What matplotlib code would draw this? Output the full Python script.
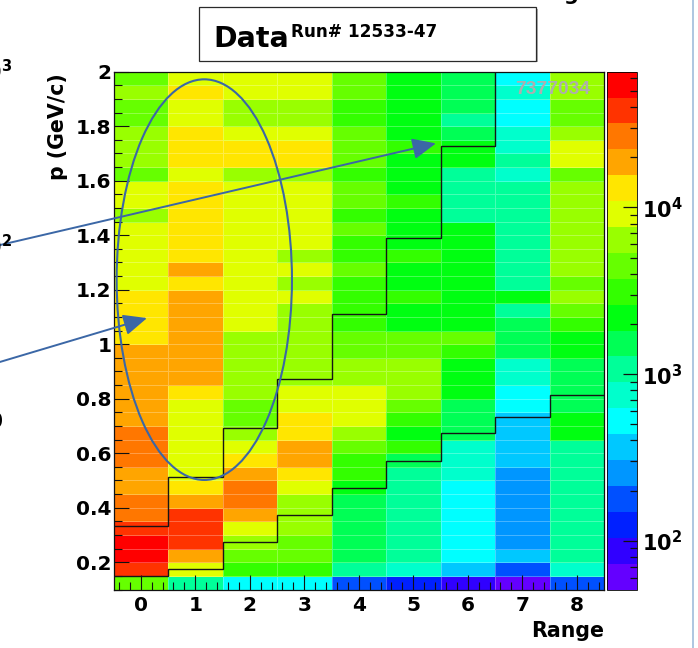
import numpy as np
import matplotlib
matplotlib.use("Agg")
import matplotlib.pyplot as plt
import matplotlib.ticker as mt
from matplotlib.colors import ListedColormap, LogNorm
from matplotlib.patches import Ellipse, Rectangle
from matplotlib.lines import Line2D

# ---------------- data ----------------
range_edges = np.arange(-0.5, 9.0, 1.0)              # Range bins 0..8
p_edges = np.round(np.arange(0.10, 2.0001, 0.05), 2)  # p bins (GeV/c)

# counts per Range column, p bins from 0.10 (bottom) to 2.00 (top)
counts_r0 = [4410, 37900, 55800, 58200, 39600, 27300, 25800, 19200, 18300, 26100, 27800, 26400, 18900, 19500, 18100, 18800, 19700, 18400, 13400, 12800, 13700, 12600, 9350, 8900, 9600, 8700, 9150, 6200, 8800, 9400, 4550, 6500, 6250, 6600, 4380, 4600, 6150, 4500]
counts_r1 = [1080, 9200, 18500, 38800, 40200, 37600, 19100, 13300, 9050, 8950, 9300, 9100, 8800, 9450, 12900, 18600, 19300, 18200, 19800, 18900, 19400, 18700, 13200, 18100, 13600, 12900, 13400, 13800, 12700, 13100, 9250, 13500, 13900, 12800, 9050, 8850, 13300, 9200]
counts_r2 = [510, 3050, 4400, 6300, 9000, 18800, 26900, 27500, 19000, 13200, 9100, 6450, 4500, 4350, 6300, 6500, 6200, 6400, 6550, 9200, 9050, 8900, 9300, 9150, 9400, 8800, 9000, 9250, 9100, 8950, 6400, 13100, 13500, 9200, 6350, 6500, 9050, 9300]
counts_r3 = [530, 3150, 4250, 4600, 6200, 6450, 6350, 9100, 13200, 18600, 19200, 13400, 12900, 9300, 9000, 6400, 6250, 6500, 6300, 6450, 6350, 9150, 6500, 9050, 6250, 8900, 9200, 9350, 9000, 9100, 6400, 13000, 13600, 9200, 6300, 6550, 9050, 9250]
counts_r4 = [175, 1080, 1520, 1560, 1490, 1540, 1600, 2200, 3050, 3200, 4400, 6300, 8900, 9200, 9100, 6450, 6250, 4550, 4400, 3100, 3150, 3050, 3200, 4500, 3100, 3000, 4350, 3150, 4600, 4450, 3050, 4500, 4400, 4550, 3100, 3200, 4450, 4600]
counts_r5 = [122, 760, 1060, 1090, 1040, 1100, 1070, 1050, 1120, 1550, 3100, 2200, 3150, 4500, 6350, 6450, 6300, 4400, 4550, 2150, 2200, 3050, 2180, 2250, 3100, 2200, 2150, 2230, 3150, 2170, 2200, 2190, 3050, 2250, 2160, 2210, 2180, 2230]
counts_r6 = [86, 360, 515, 530, 510, 525, 520, 505, 760, 745, 770, 1540, 1510, 1560, 2200, 2150, 2230, 3100, 4450, 2180, 2210, 2150, 2240, 2190, 2200, 2170, 2230, 1060, 1090, 1050, 1080, 2200, 2160, 1520, 1070, 1550, 1530, 1500]
counts_r7 = [62, 176, 360, 250, 258, 262, 248, 255, 252, 370, 355, 372, 360, 520, 510, 745, 760, 1550, 1520, 1560, 1080, 2200, 1060, 1100, 1050, 1070, 1090, 1040, 1080, 1060, 750, 1070, 760, 740, 515, 525, 755, 520]
counts_r8 = [180, 750, 1060, 1080, 1100, 1050, 1070, 1090, 1040, 1080, 1065, 2200, 2150, 1540, 1520, 1560, 1500, 2180, 2230, 3100, 4450, 6300, 4500, 6400, 6250, 6350, 6500, 6300, 6450, 6200, 4400, 9100, 9300, 6350, 4550, 4450, 6400, 6300]

# momentum cut staircases (one level per Range bin)
upper_cut = [0.334, 0.514, 0.694, 0.871, 1.111, 1.389, 1.727, 2.10]
lower_cut = [0.150, 0.174, 0.273, 0.373, 0.474, 0.573, 0.673, 0.732, 0.814]

z_min, z_max = 51, 65300
entries_text = "7377034"
palette = ['#6400ff', '#3000ff', '#0020ff', '#0050ff', '#0096ff', '#00c8ff',
           '#00ffff', '#00ffcc', '#00ff99', '#00ff55', '#00ff11', '#33ff00',
           '#66ff00', '#99ff00', '#e0ff00', '#ffe600', '#ffa500', '#ff7700',
           '#ff3300', '#ff0000']

# ---------------- figure ----------------
plt.rcParams['font.family'] = ['DejaVu Sans']
plt.rcParams['font.weight'] = 'bold'
plt.rcParams['mathtext.fontset'] = 'dejavusans'

W, H = 698, 648
fig = plt.figure(figsize=(W / 100, H / 100), dpi=100)
fig.patch.set_facecolor('white')

ax = fig.add_axes([113.5 / W, 1 - 589.5 / H, 490.5 / W, 517.8 / H])
Z = np.column_stack([counts_r0, counts_r1, counts_r2, counts_r3, counts_r4,
                     counts_r5, counts_r6, counts_r7, counts_r8])
cmap = ListedColormap(palette)
norm = LogNorm(vmin=z_min, vmax=z_max)
mesh = ax.pcolormesh(range_edges, p_edges, Z, cmap=cmap, norm=norm,
                     edgecolors=(1, 1, 1, 0.28), linewidth=0.5)

# staircases
ax.stairs(upper_cut, range_edges[:len(upper_cut) + 1], baseline=None,
          color='#151515', lw=1.0, zorder=3)
ax.stairs(lower_cut, range_edges[:len(lower_cut) + 1], baseline=None,
          color='#151515', lw=1.0, zorder=3)

blue = '#3b67a6'
ax.add_patch(Ellipse((1.166, 1.237), 3.217, 1.470, fill=False,
                     edgecolor=blue, lw=1.5, zorder=4))
arrow_kw = dict(arrowstyle='-|>,head_length=0.9,head_width=0.4',
                color=blue, lw=1.4, mutation_scale=16, shrinkA=0, shrinkB=0)
ax.annotate('', xy=(5.417, 1.737), xytext=(-2.583, 1.364),
            arrowprops=arrow_kw, annotation_clip=False, zorder=5)
ax.annotate('', xy=(0.115, 1.096), xytext=(-2.583, 0.935),
            arrowprops=arrow_kw, annotation_clip=False, zorder=5)

ax.text(8.243, 1.933, entries_text, ha='right', va='center', color='#aeaeae',
        fontsize=13.8, fontweight='bold', family='Liberation Sans', zorder=4)

ax.set_xlim(-0.5, 8.5)
ax.set_ylim(0.1, 2.0)
ax.set_xticks(range(9))
ax.xaxis.set_minor_locator(mt.MultipleLocator(0.2))
ax.set_yticks(np.arange(0.2, 2.01, 0.2))
ax.yaxis.set_minor_locator(mt.MultipleLocator(0.05))
ax.yaxis.set_major_formatter(mt.FuncFormatter(lambda v, p: f'{v:g}'))
ax.tick_params(which='both', direction='in', top=False, right=False,
               color='#111111', width=0.8, labelsize=14.5)
ax.tick_params(which='major', length=10.5)
ax.tick_params(which='minor', length=5.5)
ax.tick_params(axis='x', pad=5)
ax.tick_params(axis='y', pad=1.5)
for s in ax.spines.values():
    s.set_linewidth(0.9)
    s.set_color('#111111')

ax.set_xlabel('Range', loc='right', fontsize=14.8, fontweight='bold')
ax.xaxis.set_label_coords(1.0, -0.061)
ax.set_ylabel('p (GeV/c)', loc='top', fontsize=14.8, fontweight='bold')
ax.yaxis.set_label_coords(-0.093, 0.997)

# colour bar
cax = fig.add_axes([606.5 / W, 1 - 589.5 / H, 30 / W, 517.8 / H])
cb = fig.colorbar(mesh, cax=cax)
cb.outline.set_linewidth(0.6)
cb.set_ticks([1e2, 1e3, 1e4])
cb.set_ticklabels([r'$\mathbf{10^{2}}$', r'$\mathbf{10^{3}}$', r'$\mathbf{10^{4}}$'])
cax.yaxis.set_minor_locator(mt.LogLocator(base=10, subs=np.arange(2, 10)))
cax.yaxis.set_minor_formatter(mt.NullFormatter())
cax.tick_params(which='both', direction='in', right=True, left=False,
                color='#111111', width=0.9, labelsize=15, pad=4)
cax.tick_params(which='major', length=10)
cax.tick_params(which='minor', length=5)

# title pave
fig.patches.append(Rectangle((199 / W + 1.5 / W, 1 - 60.5 / H - 1.5 / H), 337 / W, 53 / H,
                             transform=fig.transFigure, facecolor='#b0b0b0',
                             edgecolor='none', zorder=1))
fig.patches.append(Rectangle((199 / W, 1 - 60.5 / H), 337 / W, 53 / H,
                             transform=fig.transFigure, facecolor='white',
                             edgecolor='#2a2a2a', lw=0.9, zorder=2))
fig.text(213 / W, 1 - 47 / H, 'Data', fontsize=20.5, fontweight='bold',
         ha='left', va='baseline', zorder=3)
fig.text(291 / W, 1 - 37 / H, 'Run# 12533-47', fontsize=12.2, fontweight='bold',
         ha='left', va='baseline', zorder=3)

# fragments of neighbouring panel
fig.text(12 / W, 1 - 80 / H, r'$\mathbf{10^{3}}$', fontsize=15, ha='right', va='baseline')
fig.text(12 / W, 1 - 255 / H, r'$\mathbf{10^{2}}$', fontsize=15, ha='right', va='baseline')
fig.text(4 / W, 1 - 428 / H, '10', fontsize=15, ha='right', va='baseline')
fig.text(571 / W, 1.0, 'g', fontsize=15, ha='center', va='baseline')
fig.add_artist(Line2D([692.5 / W, 692.5 / W], [0, 1], transform=fig.transFigure,
                      color='#9fbcdc', lw=1.2))

fig.savefig('out.png', dpi=100, facecolor='white')
